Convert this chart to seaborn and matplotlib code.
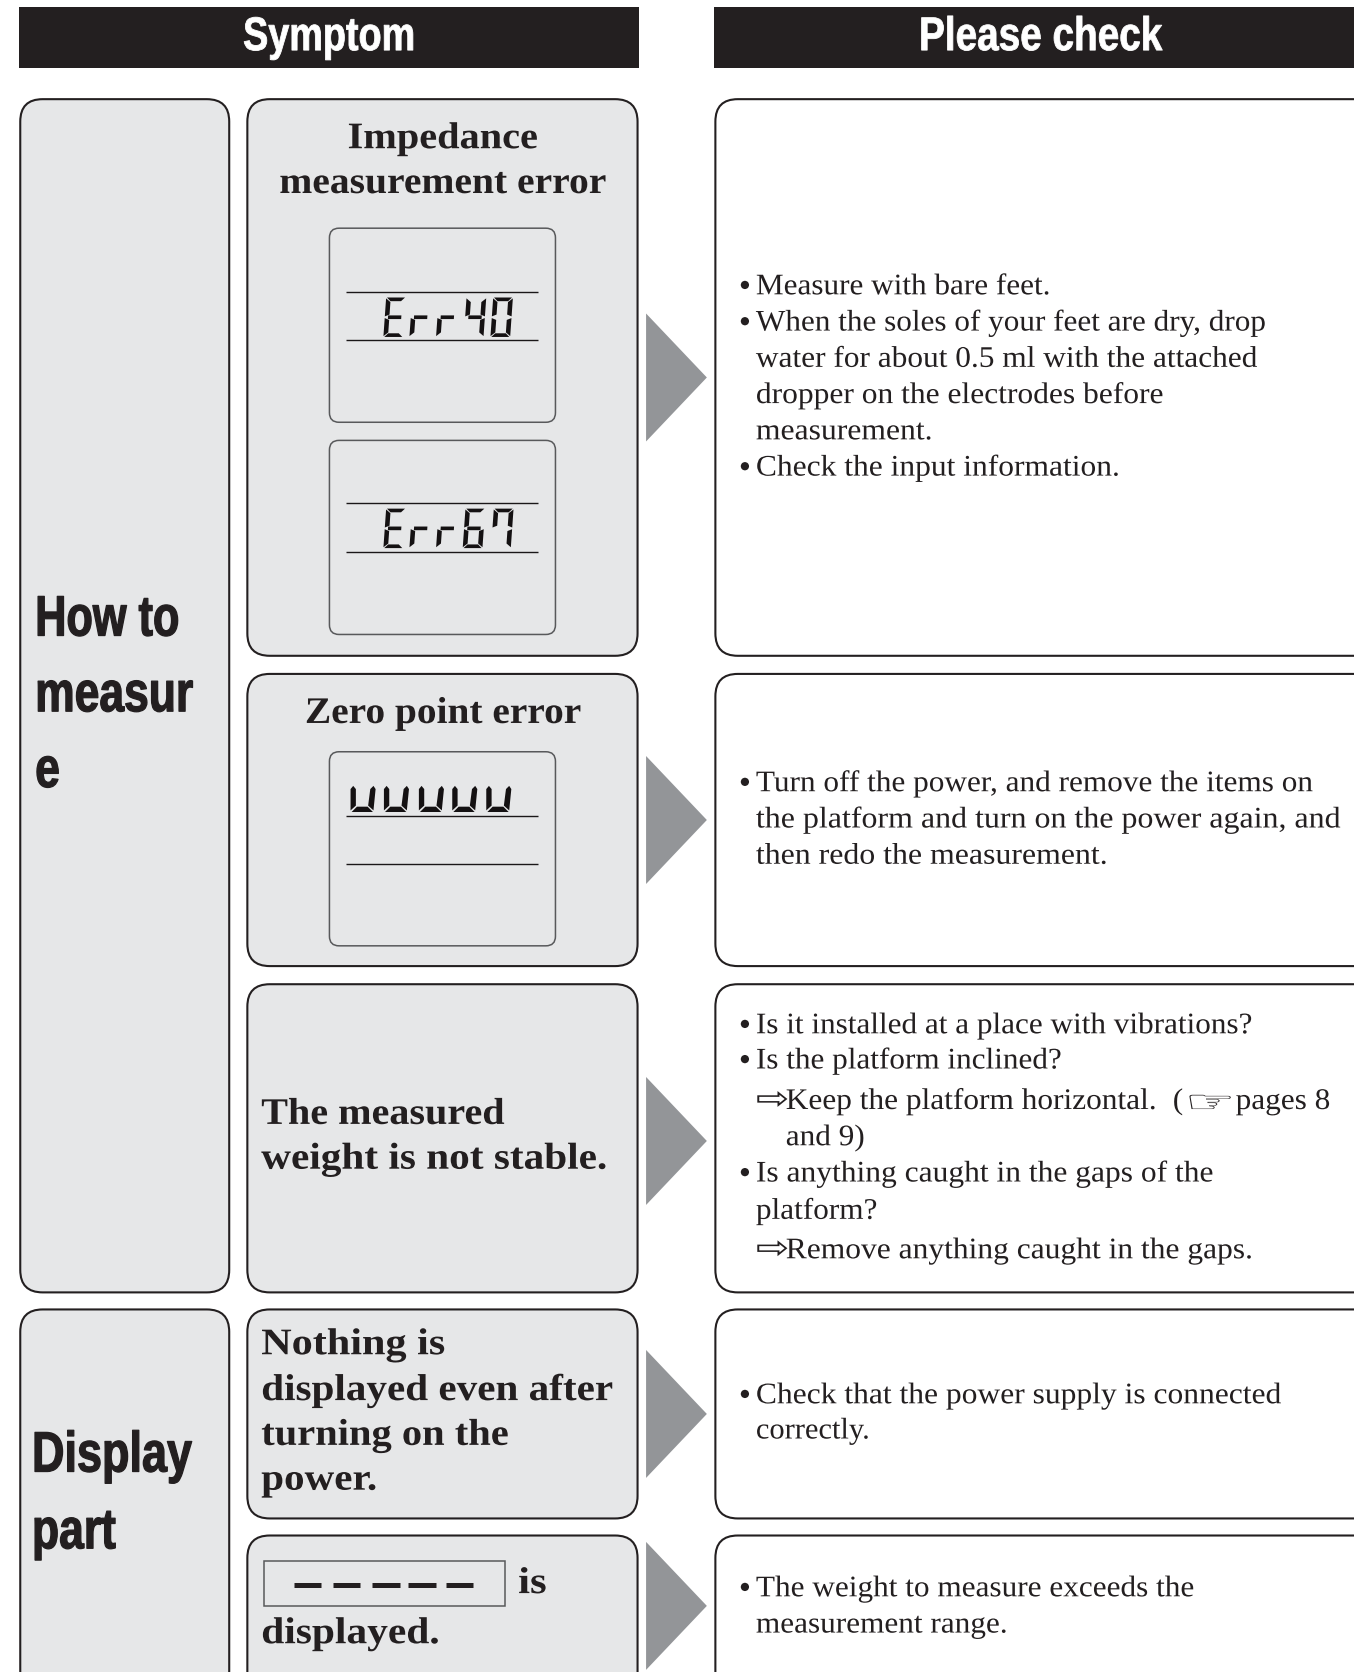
import matplotlib
matplotlib.use("Agg")
import matplotlib.pyplot as plt
from matplotlib.patches import FancyBboxPatch, Rectangle, Polygon
from matplotlib.patheffects import AbstractPathEffect
from matplotlib.transforms import Affine2D
import pandas as pd
import seaborn as sns

sns.set_theme(style="white")
SERIF = ["Liberation Serif", "DejaVu Serif"]
COND = ["Liberation Sans", "DejaVu Sans"]
SYM = ["DejaVu Sans"]
GREY = "#e6e7e8"
INK = "#231f20"

# ---------- content ----------
headers = ["Symptom", "Please check"]
group_labels = ["How to", "measur", "e", "Display", "part"]
symptom_titles = ["Impedance", "measurement error", "Zero point error"]
symptom_texts = ["The measured", "weight is not stable.", "Nothing is", "displayed even after",
                 "turning on the", "power.", "is", "displayed."]
check_texts = ["Measure with bare feet.",
               "When the soles of your feet are dry, drop",
               "water for about 0.5 ml with the attached",
               "dropper on the electrodes before",
               "measurement.",
               "Check the input information.",
               "Turn off the power, and remove the items on",
               "the platform and turn on the power again, and",
               "then redo the measurement.",
               "Is it installed at a place with vibrations?",
               "Is the platform inclined?",
               "Keep the platform horizontal.",
               "(", "pages 8",
               "and 9)",
               "Is anything caught in the gaps of the",
               "platform?",
               "Remove anything caught in the gaps.",
               "Check that the power supply is connected",
               "correctly.",
               "The weight to measure exceeds the",
               "measurement range."]
lcd_words = ["Err40", "Err67", "uuuuu"]
SEGS = {"E": "adefg", "r": "eg", "4": "bcfg", "0": "abcdef", "6": "acdefg", "7": "abcf", "u": "cde"}

# ---------- layout ----------
header_pos = [(228, 47), (862, 47)]
header_sx = [0.80, 0.82]
header_boxes = [(18, 7, 581, 57), (670, 7, 600, 57)]
group_pos = [(33, 596), (33, 667), (33, 738), (30, 1380), (30, 1452)]
group_sx = [0.76, 0.78, 0.78, 0.79, 0.78]
group_boxes = [(19, 93, 196, 1119), (19, 1228, 196, 360)]
symptom_boxes = [(232, 93, 366, 522), (232, 632, 366, 274), (232, 923, 366, 289),
                 (232, 1228, 366, 196), (232, 1440, 366, 170)]
check_boxes = [(671, 93, 640, 522), (671, 632, 640, 274), (671, 923, 640, 289),
               (671, 1228, 640, 196), (671, 1440, 640, 170)]
lcd_boxes = [(309, 214, 212, 182), (309, 413, 212, 182), (309, 705, 212, 182)]
lcd_rules_y = [274, 319, 472, 518, 765, 810]
arrow_centers = [354, 769, 1070, 1326, 1506]
title_pos = [(326, 139), (262, 181), (286, 678)]
title_sx = [1.075, 1.055, 1.05]
symptom_pos = [(245, 1054), (245, 1096), (245, 1270), (245, 1313), (245, 1355), (245, 1397),
               (486, 1494), (245, 1541)]
symptom_sx = [1.07, 1.10, 1.125, 1.097, 1.08, 1.095, 1.14, 1.105]
check_pos = [(709, 276), (709, 310), (709, 344), (709, 378), (709, 412), (709, 446),
             (709, 742), (709, 776), (709, 810),
             (709, 969), (709, 1002), (737, 1040), (1100, 1040), (1159, 1040), (737, 1074),
             (709, 1108), (709, 1143), (737, 1180),
             (709, 1316), (709, 1349), (709, 1497), (709, 1531)]
check_sx = [1.045, 1.045, 1.05, 1.055, 1.06, 1.055,
            1.047, 1.07, 1.066,
            1.045, 1.045, 1.05, 1.047, 1.047, 1.047,
            1.055, 1.047, 1.055,
            1.056, 1.02, 1.047, 1.047]
bullet_y = [276, 310, 446, 742, 969, 1002, 1108, 1316, 1497]
arrow_glyph_y = [1040, 1180]
dash_spans = [(276, 301), (312, 338), (349, 375), (383, 409), (418, 444)]
lcd_word_x = [[359.6, 384, 409, 435, 460], [359.6, 384, 409, 434, 460.6],
              [328.3, 359.6, 392.4, 423.7, 455.6]]
lcd_word_y = [279, 477, 737]


class Squeeze(AbstractPathEffect):
    """Scale a text's glyphs horizontally about its start, with an optional outline."""
    def __init__(self, sx=1.0, lw=0.0, color=INK):
        super().__init__()
        self.sx, self.lw, self.color = sx, lw, color

    def draw_path(self, renderer, gc, tpath, affine, rgbFace=None):
        gc0 = renderer.new_gc()
        gc0.copy_properties(gc)
        gc0.set_linewidth(self.lw)
        gc0.set_foreground(self.color)
        renderer.draw_path(gc0, tpath, Affine2D().scale(self.sx, 1) + affine, rgbFace)
        gc0.restore()


fig = plt.figure(figsize=(13.54, 16.72), dpi=100)
ax = fig.add_axes([0, 0, 1, 1])


def rbox(b, r=21, lw=1.5, ec=INK, fc=GREY, z=1):
    x, y, w, h = b
    ax.add_patch(FancyBboxPatch((x, y), w, h, boxstyle=f"round,pad=0,rounding_size={r}",
                                fc=fc, ec=ec, lw=lw, zorder=z))


def put(t, pos, size, sx=1.0, family=SERIF, weight="normal", color=INK, lw=0.0):
    ax.text(pos[0], pos[1], t, color=color, ha="left", va="baseline", fontsize=size,
            fontweight=weight, family=family, zorder=4, path_effects=[Squeeze(sx, lw, color)])


for b in header_boxes:
    ax.add_patch(Rectangle((b[0], b[1]), b[2], b[3], fc=INK, ec="none"))
for b in group_boxes + symptom_boxes:
    rbox(b)
for b in check_boxes:
    rbox(b, fc="white")
for b in lcd_boxes:
    rbox(b, r=9, lw=1.1, ec="#58595b", z=2)
ax.add_patch(Rectangle((248, 1464), 226, 42, fc=GREY, ec="#58595b", lw=1.1, zorder=2))

for cy in arrow_centers:
    ax.add_patch(Polygon([(606, cy - 60), (663, cy), (606, cy + 60)], fc="#939598", ec="none", zorder=2))

rows = []
for i, y in enumerate(lcd_rules_y):
    rows += [dict(rule=i, x=325, y=y), dict(rule=i, x=505, y=y)]
sns.lineplot(data=pd.DataFrame(rows), x="x", y="y", units="rule", estimator=None,
             color="#1a1718", lw=1.0, ax=ax, zorder=3, legend=False, solid_capstyle="butt")
rows = []
for i, (a, b) in enumerate(dash_spans):
    rows += [dict(d=i, x=a, y=1486), dict(d=i, x=b, y=1486)]
sns.lineplot(data=pd.DataFrame(rows), x="x", y="y", units="d", estimator=None,
             color=INK, lw=3.6, ax=ax, zorder=3, legend=False, solid_capstyle="butt")


def segment(name, x, y, w, h, t):
    m = y + h / 2
    g = 0.8
    if name == "a":
        return [(x + g, y), (x + w - g, y), (x + w - t, y + t * .8), (x + t, y + t * .8)]
    if name == "d":
        return [(x + g, y + h), (x + w - g, y + h), (x + w - t, y + h - t * .8), (x + t, y + h - t * .8)]
    if name == "g":
        return [(x + t * .7, m - t * .4), (x + w - t * .7, m - t * .4), (x + w - t * .7, m + t * .4), (x + t * .7, m + t * .4)]
    if name == "f":
        return [(x, y + g), (x + t, y + t), (x + t, m - t * .4 - g), (x, m - g)]
    if name == "e":
        return [(x, m + g), (x + t, m + t * .4 + g), (x + t, y + h - t), (x, y + h - g)]
    if name == "b":
        return [(x + w, y + g), (x + w - t, y + t), (x + w - t, m - t * .4 - g), (x + w, m - g)]
    return [(x + w, m + g), (x + w - t, m + t * .4 + g), (x + w - t, y + h - t), (x + w, y + h - g)]


for word, xs, y in zip(lcd_words, lcd_word_x, lcd_word_y):
    for ch, x in zip(word, xs):
        if ch == "u":
            w, h = 24, 24.5
            shapes = [[(x + 0.5, y + 3), (x + 3, y), (x + 5.5, y + 3), (x + 5.5, y + h - 6), (x + 0.5, y + h - 1.5)],
                      [(x + w - 5, y + 3), (x + w - 2, y), (x + w, y + 3), (x + w - 2, y + h - 1.5), (x + w - 7, y + h - 6)],
                      [(x + 1.5, y + h), (x + 6.5, y + h - 5), (x + w - 7.5, y + h - 5), (x + w - 2.5, y + h)]]
        else:
            w, h = 18.5, 37
            shapes = [[(px + (y + h - py) * 0.07, py) for px, py in segment(s, x, y, w, h, 4.3)] for s in SEGS[ch]]
        for pts in shapes:
            ax.add_patch(Polygon(pts, fc="#141112", ec="none", zorder=3))

for t, p, s in zip(headers, header_pos, header_sx):
    put(t, p, 34, sx=s, family=COND, weight="bold", color="white", lw=0.6)
for t, p, s in zip(group_labels, group_pos, group_sx):
    put(t, p, 41, sx=s, family=COND, weight="bold", lw=0.9)
for t, p, s in zip(symptom_titles, title_pos, title_sx):
    put(t, p, 27, sx=s, weight="bold")
for t, p, s in zip(symptom_texts, symptom_pos, symptom_sx):
    put(t, p, 27, sx=s, weight="bold")
for t, p, s in zip(check_texts, check_pos, check_sx):
    put(t, p, 21.5, sx=s)
for y in bullet_y:
    put("\u2022", (693, y + 2), 25)
for y in arrow_glyph_y:
    put("\u21e8", (709, y), 23, sx=1.25, family=SYM)
put("\u261e", (1111, 1043), 22, sx=1.87, family=SYM)

ax.set_xlim(0, 1270)
ax.set_ylim(1568, 0)
ax.axis("off")
fig.savefig("out.png", dpi=100, facecolor="white")
